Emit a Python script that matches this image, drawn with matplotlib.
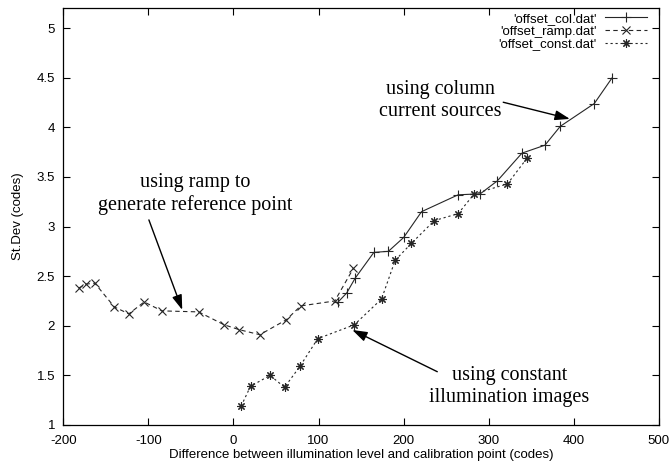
import matplotlib
matplotlib.use("Agg")
import matplotlib.pyplot as plt

# ---- data ----
col_x = [123, 133, 143, 165, 182, 200, 221, 264, 290, 310, 339, 366, 384, 424, 445]
col_y = [2.24, 2.33, 2.48, 2.74, 2.75, 2.89, 3.15, 3.32, 3.33, 3.46, 3.74, 3.82, 4.01, 4.24, 4.50]

ramp_x = [-182, -173, -163, -140, -123, -105, -84, -41, -11, 7, 31, 62, 79, 119, 141]
ramp_y = [2.38, 2.42, 2.43, 2.19, 2.12, 2.24, 2.15, 2.14, 2.01, 1.96, 1.91, 2.06, 2.20, 2.25, 2.58]

const_x = [9, 20, 43, 60, 78, 99, 142, 174, 190, 209, 236, 264, 283, 322, 345]
const_y = [1.19, 1.39, 1.50, 1.38, 1.59, 1.87, 2.01, 2.27, 2.66, 2.83, 3.06, 3.13, 3.33, 3.43, 3.69]

labels = ["'offset_col.dat'", "'offset_ramp.dat'", "'offset_const.dat'"]
x_ticks = [-200, -100, 0, 100, 200, 300, 400, 500]
y_ticks = [1, 1.5, 2, 2.5, 3, 3.5, 4, 4.5, 5]
y_tick_labels = ["1", "1.5", "2", "2.5", "3", "3.5", "4", "4.5", "5"]

plt.rcParams['font.family'] = ['Liberation Sans', 'DejaVu Sans']
plt.rcParams['axes.unicode_minus'] = False
fig = plt.figure(figsize=(6.69, 4.68), dpi=100)
ax = fig.add_axes([0.0946, 0.0919, 0.8904, 0.8904])

lc = '#262626'
ax.plot(col_x, col_y, '-', color=lc, lw=0.8, marker='+', ms=6.5, mew=0.8, label=labels[0])
ax.plot(ramp_x, ramp_y, color=lc, lw=0.8, ls=(0, (4, 3)), marker='x', ms=5.5, mew=0.8, label=labels[1])
ax.plot(const_x, const_y, color=lc, lw=0.8, ls=(0, (2, 2.5)), marker=(8, 2, 0), ms=6, mew=0.8, label=labels[2])

ax.set_xlim(-200, 500)
ax.set_ylim(1, 5.2)
ax.set_xticks(x_ticks)
ax.set_yticks(y_ticks)
ax.set_yticklabels(y_tick_labels)
ax.tick_params(direction='in', length=5, width=0.8, top=True, right=True, labelsize=9.5)
ax.tick_params(axis='x', pad=7)
ax.tick_params(axis='y', pad=6)
for s in ax.spines.values():
    s.set_linewidth(0.9)
ax.set_xlabel("Difference between illumination level and calibration point (codes)", fontsize=9.5, labelpad=2)
ax.set_ylabel("St.Dev (codes)", fontsize=9.5, labelpad=9)

leg = ax.legend(loc='upper right', bbox_to_anchor=(0.98, 0.99), frameon=False, markerfirst=False,
                fontsize=9.5, handlelength=3.2, handletextpad=0.6, labelspacing=0.05,
                borderpad=0, borderaxespad=0)

serif = ['Liberation Serif', 'DejaVu Serif']
ax.text(-44.5, 3.33, "using ramp to\ngenerate reference point", ha='center', va='center',
        fontsize=14.5, family=serif, linespacing=1.2)
ax.text(243.4, 4.27, "using column\ncurrent sources", ha='center', va='center',
        fontsize=14.5, family=serif, linespacing=1.2)
ax.text(324.1, 1.386, "using constant\nillumination images", ha='center', va='center',
        fontsize=14.5, family=serif, linespacing=1.2)

ap = dict(arrowstyle='-|>,head_length=0.9,head_width=0.3', color='black', lw=1.0,
          shrinkA=0, shrinkB=0)
ax.annotate("", xy=(-60.2, 2.16), xytext=(-99.4, 3.067), arrowprops=ap)
ax.annotate("", xy=(395.3, 4.085), xytext=(317.0, 4.253), arrowprops=ap)
ax.annotate("", xy=(139.6, 1.958), xytext=(239.5, 1.537), arrowprops=ap)

fig.savefig("out.png", dpi=100)
